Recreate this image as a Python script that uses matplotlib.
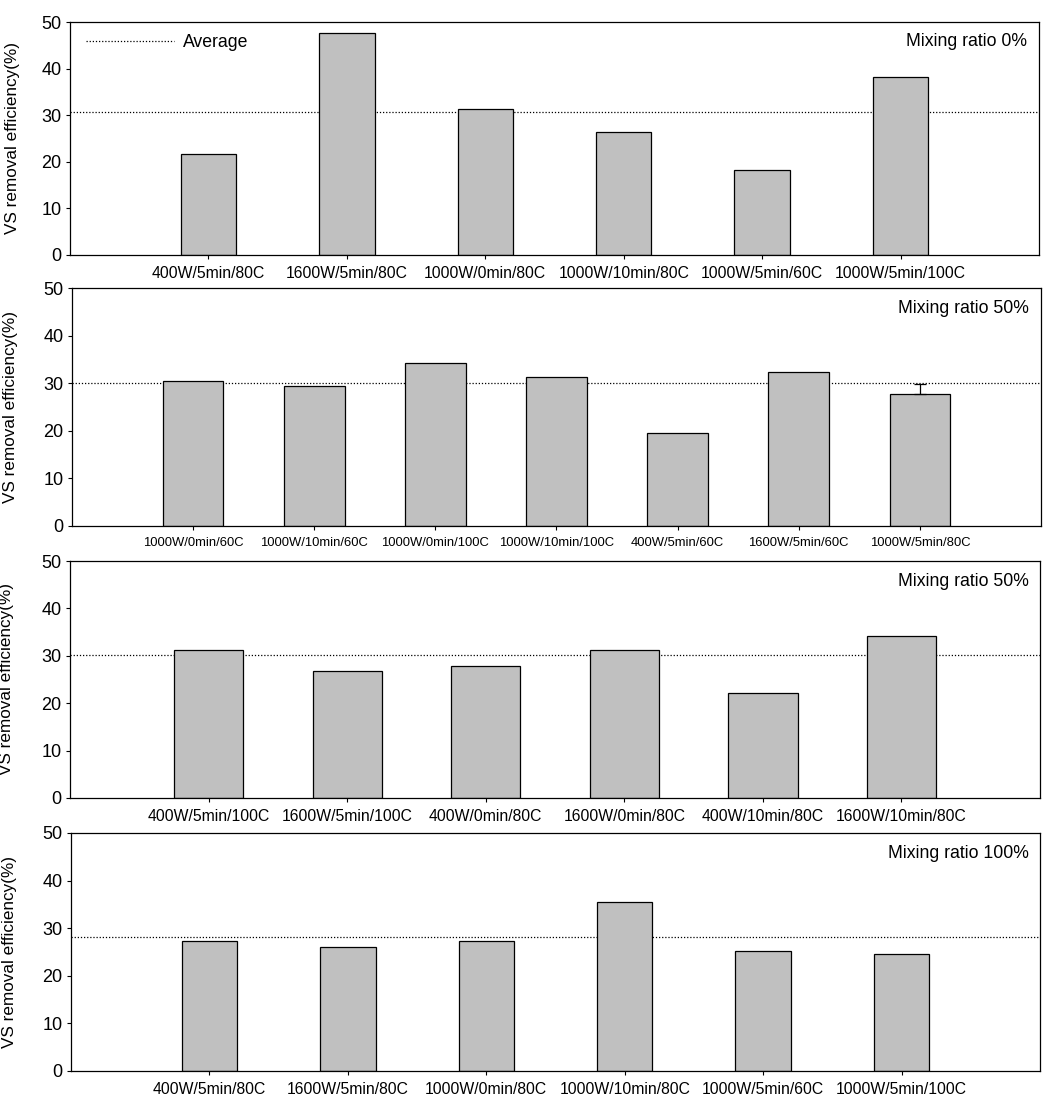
import matplotlib
matplotlib.use("Agg")
import matplotlib.pyplot as plt
import numpy as np

plt.rcParams['font.family'] = ['Liberation Sans', 'DejaVu Sans']

### Data
labels_0 = ['400W/5min/80C', '1600W/5min/80C', '1000W/0min/80C',
            '1000W/10min/80C', '1000W/5min/60C', '1000W/5min/100C']
values_0 = [21.6, 47.6, 31.3, 26.3, 18.2, 38.1]
avg_0 = 30.6

labels_50a = ['1000W/0min/60C', '1000W/10min/60C', '1000W/0min/100C',
              '1000W/10min/100C', '400W/5min/60C', '1600W/5min/60C',
              '1000W/5min/80C']
values_50a = [30.4, 29.4, 34.2, 31.3, 19.5, 32.3, 27.7]
err_50a = [0, 0, 0, 0, 0, 0, 2.2]
avg_50a = 30.0

labels_50b = ['400W/5min/100C', '1600W/5min/100C', '400W/0min/80C',
              '1600W/0min/80C', '400W/10min/80C', '1600W/10min/80C']
values_50b = [31.2, 26.8, 27.8, 31.2, 22.1, 34.1]
avg_50b = 30.1

labels_100 = ['400W/5min/80C', '1600W/5min/80C', '1000W/0min/80C',
              '1000W/10min/80C', '1000W/5min/60C', '1000W/5min/100C']
values_100 = [27.3, 26.0, 27.3, 35.5, 25.2, 24.5]
avg_100 = 28.1

panels = [
    # labels, values, errors, average, title, bar width, tick fontsize, axes rect, ylabel x
    (labels_0, values_0, None, avg_0, 'Mixing ratio 0%', 0.4, 11.3,
     [0.0659, 0.7707, 0.9115, 0.2095], -0.052),
    (labels_50a, values_50a, err_50a, avg_50a, 'Mixing ratio 50%', 0.5, 9.4,
     [0.0677, 0.5270, 0.9116, 0.2140], -0.056),
    (labels_50b, values_50b, None, avg_50b, 'Mixing ratio 50%', 0.5, 11.3,
     [0.0659, 0.2824, 0.9125, 0.2131], -0.058),
    (labels_100, values_100, None, avg_100, 'Mixing ratio 100%', 0.4, 11.3,
     [0.0668, 0.0369, 0.9116, 0.2140], -0.056),
]

fig = plt.figure(figsize=(10.63, 11.12), dpi=100)

for i, (labels, values, errs, avg, title, width, tfs, rect, ylx) in enumerate(panels):
    ax = fig.add_axes(rect)
    x = np.arange(len(labels))
    ax.bar(x, values, width=width, color='#c0c0c0', edgecolor='black',
           linewidth=0.9, zorder=2)
    if errs is not None:
        errs = np.array(errs)
        m = errs > 0
        ax.errorbar(x[m], np.array(values)[m], yerr=[np.zeros(m.sum()), errs[m]],
                    fmt='none', ecolor='black', elinewidth=0.9, capsize=4,
                    capthick=0.9, zorder=3)
    ax.axhline(avg, color='black', linestyle=(0, (1, 1.5)), linewidth=0.9,
               zorder=1, label='Average')
    ax.set_xlim(-1, len(labels))
    ax.set_ylim(0, 50)
    ax.set_yticks([0, 10, 20, 30, 40, 50])
    ax.set_xticks(x)
    ax.set_xticklabels(labels, fontsize=tfs)
    ax.tick_params(axis='y', labelsize=13, direction='out', length=3,
                   width=0.8, pad=3)
    ax.tick_params(axis='x', direction='out', length=3, width=0.8, pad=5)
    for s in ax.spines.values():
        s.set_linewidth(0.9)
    ax.set_ylabel('VS removal efficiency(%)', fontsize=12.3)
    ax.yaxis.set_label_coords(ylx, 0.5)
    ax.text(0.988, 0.915, title, transform=ax.transAxes, ha='right',
            va='center', fontsize=12.7)
    if i == 0:
        ax.legend(loc='center left', bbox_to_anchor=(0.0165, 0.91),
                  frameon=False, fontsize=12.7, handlelength=5.0,
                  handletextpad=0.5, borderpad=0, borderaxespad=0)

fig.savefig('out.png', dpi=100)
